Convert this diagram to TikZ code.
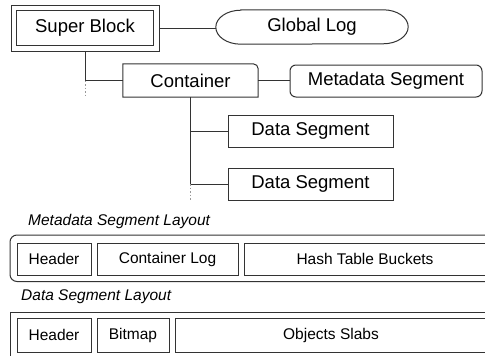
\documentclass[tikz,border=0pt]{standalone}
\usepackage{fontspec}
\setmainfont{Liberation Sans}
\begin{document}
\begin{tikzpicture}[x=1pt,y=-1pt,
  ln/.style={draw=black!80,line width=1pt},
  dotln/.style={draw=black!40,line width=1pt,dash pattern=on 1.5pt off 2pt},
  bigtxt/.style={font=\fontsize{18.5}{22}\selectfont},
  smalltxt/.style={font=\fontsize{15.5}{18}\selectfont},
  box/.style={ln,rectangle,inner sep=0pt,bigtxt},
  sbox/.style={ln,rectangle,inner sep=0pt,smalltxt,minimum height=32pt},
  plain/.style={inner sep=0pt,bigtxt},
  lbl/.style={inner sep=0pt,anchor=west,smalltxt,font=\fontsize{15.5}{18}\selectfont\itshape}
]
\useasboundingbox (0,0) rectangle (485,356);
\clip (0,0) rectangle (485,356);
\fill[white] (0,0) rectangle (485,356);

% Super Block (double box)
\node[box,minimum width=148pt,minimum height=46pt] (sbo) at (85,28) {};
\node[box,minimum width=137pt,minimum height=35pt] (sb) at (85,27.5) {Super Block};

% Global Log
\node[plain,minimum width=192pt,minimum height=34pt] (gl) at (312,27) {Global Log};
\draw[ln] ([xshift=25pt]gl.north west) -- ([xshift=-25pt]gl.north east)
  arc[start angle=90,end angle=-90,x radius=25pt,y radius=17pt]
  -- ([xshift=25pt]gl.south west)
  arc[start angle=270,end angle=90,x radius=25pt,y radius=17pt] -- cycle;

% Container
\node[plain,minimum width=135pt,minimum height=33pt] (ct) at (190.5,80.5) {Container};
\draw[ln] (ct.south west) -- (ct.north west) -- ([xshift=-5pt]ct.north east)
  arc[start angle=90,end angle=0,radius=5pt] -- (ct.south east) -- cycle;

% Metadata Segment
\node[box,rounded corners=6pt,minimum width=192pt,minimum height=32pt] (ms) at (386,81) {Metadata Segment};

% Data Segments
\node[box,minimum width=165pt,minimum height=32pt] (ds1) at (310.5,131) {Data Segment};
\node[box,minimum width=165pt,minimum height=32pt] (ds2) at (310.5,184) {Data Segment};

% connectors
\draw[ln] (sbo.east) -- (sbo.east -| gl.west);
\draw[ln] (sbo.south) -- (sbo.south |- ct.west) -- (ct.west);
\coordinate (d1) at ([yshift=-15pt]sbo.south |- ct.west);
\draw[dotln] (sbo.south |- ct.west) -- (d1);
\draw[ln] (ct.east) -- (ct.east -| ms.west);
\draw[ln] (ct.south) -- (ct.south |- ds2.west) -- (ds2.west);
\draw[ln] (ct.south |- ds1.west) -- (ds1.west);
\coordinate (d2) at ([yshift=-16pt]ct.south |- ds2.west);
\draw[dotln] (ct.south |- ds2.west) -- (d2);

% Metadata Segment Layout
\node[lbl] (mlbl) at (28,221.5) {Metadata Segment Layout};
\node[ln,rounded corners=7pt,minimum width=520pt,minimum height=46.5pt,inner sep=0pt] (mout) at (270,258.25) {};
\node[sbox,minimum width=74pt] (mh) at (54,259) {Header};
\node[sbox,minimum width=141pt] (mcl) at (167.5,259) {Container Log};
\node[sbox,minimum width=256pt] (mht) at (372,259) {\hspace*{-14pt}Hash Table Buckets};

% Data Segment Layout
\node[lbl] (dlbl) at (21,296.5) {Data Segment Layout};
\node[ln,minimum width=520pt,minimum height=60pt,inner sep=0pt] (dout) at (270,342) {};
\node[sbox,minimum width=74pt,minimum height=34pt] (dh) at (54,335) {Header};
\node[sbox,minimum width=72pt,minimum height=34pt] (dbm) at (133,335) {Bitmap};
\node[sbox,minimum width=325pt,minimum height=34pt] (dos) at (337.5,335) {\hspace*{-13pt}Objects Slabs};
\end{tikzpicture}
\end{document}
